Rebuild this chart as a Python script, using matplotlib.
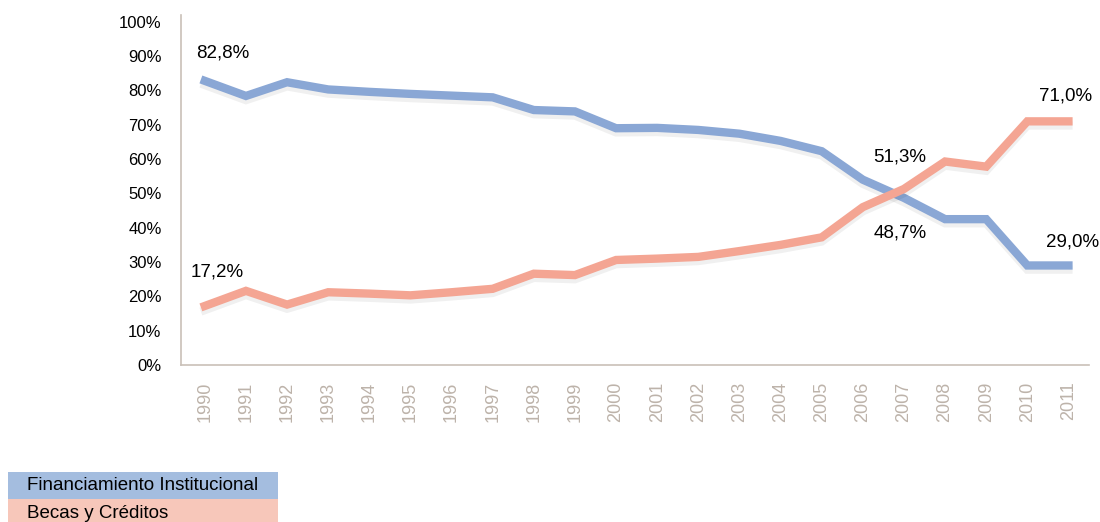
import matplotlib.pyplot as plt
import matplotlib.patheffects as pe
from matplotlib.patches import Rectangle

plt.rcParams['font.family'] = ['Liberation Sans', 'DejaVu Sans']

# data
years = [str(y) for y in range(1990, 2012)]
institucional = [82.8, 78.4, 82.4, 80.3, 79.6, 79.0, 78.5, 78.0, 74.3, 73.9, 69.0,
                 69.1, 68.5, 67.4, 65.3, 62.3, 54.0, 48.7, 42.5, 42.5, 29.0, 29.0]
becas = [17.2, 21.6, 17.6, 21.2, 20.8, 20.3, 21.2, 22.2, 26.6, 26.2, 30.6,
         31.0, 31.5, 33.2, 35.0, 37.2, 46.0, 51.3, 59.3, 57.8, 71.0, 71.0]
series_names = ["Financiamiento Institucional", "Becas y Créditos"]

# (year index, label offset in px)
labels_blue = [(0, (18, 28)), (17, (-4, -35)), (21, (4, 23))]
labels_red = [(0, (12, 34)), (17, (-4, 32)), (21, (-3, 25))]

blue = "#8AA7D5"
red = "#F4A593"
axis_col = "#C9C0B8"

fig = plt.figure(figsize=(11, 5.22), dpi=100)
ax = fig.add_axes([0.1645, 0.3008, 0.8255, 0.6705])

x = list(range(len(years)))
shadow = [pe.SimpleLineShadow(offset=(0, -3), shadow_color="#000000", alpha=0.06), pe.Normal()]
ax.plot(x, institucional, color=blue, lw=6, solid_joinstyle="miter", path_effects=shadow)
ax.plot(x, becas, color=red, lw=6, solid_joinstyle="miter", path_effects=shadow)

def fmt(v):
    return f"{v:.1f}".replace(".", ",") + "%"

for i, off in labels_blue:
    ax.annotate(fmt(institucional[i]), (i, institucional[i]), xytext=off,
                textcoords="offset pixels", ha="center", va="center", fontsize=13.5)
for i, off in labels_red:
    ax.annotate(fmt(becas[i]), (i, becas[i]), xytext=off,
                textcoords="offset pixels", ha="center", va="center", fontsize=13.5)

ax.set_xlim(-0.58, 21.5)
ax.set_ylim(0, 102)
ax.set_yticks(range(0, 101, 10))
ax.set_yticklabels([f"{v}%" for v in range(0, 101, 10)], fontsize=12)
ax.set_xticks(x)
ax.set_xticklabels(years, rotation=90, fontsize=13, color="#BDB3AA")
ax.tick_params(length=0)
ax.tick_params(axis="y", pad=14)
ax.tick_params(axis="x", pad=12)
for s in ["top", "right"]:
    ax.spines[s].set_visible(False)
for s in ["left", "bottom"]:
    ax.spines[s].set_color(axis_col)
    ax.spines[s].set_linewidth(1.2)

# legend boxes at the bottom
fig.patches.append(Rectangle((8 / 1100, 1 - 499 / 522), 270 / 1100, 27 / 522,
                             transform=fig.transFigure, facecolor="#A4BDDF", edgecolor="none"))
fig.patches.append(Rectangle((8 / 1100, 0), 270 / 1100, 23 / 522,
                             transform=fig.transFigure, facecolor="#F7C7BA", edgecolor="none"))
fig.text(27 / 1100, 1 - 486 / 522, series_names[0], fontsize=13.5, va="center")
fig.text(27 / 1100, 1 - 513 / 522, series_names[1], fontsize=13.5, va="center")

fig.savefig("out.png", dpi=100)
